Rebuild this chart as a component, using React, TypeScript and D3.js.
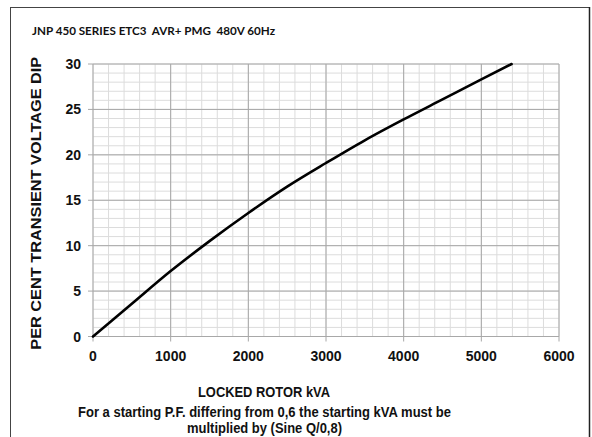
import React from "react";
import * as d3 from "d3";

const kva = [0, 500, 1000, 1500, 2000, 2500, 3000, 3500, 4000, 4500, 5000, 5390];
const dip = [0, 3.6, 7.2, 10.5, 13.6, 16.5, 19.1, 21.6, 23.9, 26.1, 28.3, 30];
const xTicks = [0, 1000, 2000, 3000, 4000, 5000, 6000];
const yTicks = [0, 5, 10, 15, 20, 25, 30];
const title = "JNP 450 SERIES ETC3  AVR+ PMG  480V 60Hz";
const yTitle = "PER CENT TRANSIENT VOLTAGE DIP";
const xTitleLines = [
  "LOCKED ROTOR kVA",
  "For a starting P.F. differing from 0,6 the starting kVA must be",
  "multiplied by (Sine Q/0,8)",
];

const W = 592;
const H = 437;
const left = 93, right = 559, top = 64, bottom = 336.5;

export default function App() {
  const x = d3.scaleLinear().domain([0, 6000]).range([left, right]);
  const y = d3.scaleLinear().domain([0, 30]).range([bottom, top]);
  const minorX = d3.range(0, 6001, 200);
  const minorY = d3.range(0, 31, 1);
  const pts: [number, number][] = kva.map((k, i) => [k, dip[i]]);
  const line = d3
    .line<[number, number]>()
    .x((d) => x(d[0]))
    .y((d) => y(d[1]))
    .curve(d3.curveMonotoneX);
  const font = "Liberation Sans, Arial, sans-serif";
  return (
    <svg
      width={W}
      height={H}
      style={{ position: "absolute", left: 0, top: 0, background: "#fff" }}
    >
      <rect x={0} y={0} width={W} height={H} fill="#fff" />
      {/* outer frame */}
      <line x1={10} y1={7.5} x2={589.5} y2={7.5} stroke="#444" strokeWidth={1} />
      <line x1={10.5} y1={7} x2={10.5} y2={H} stroke="#444" strokeWidth={1} />
      <line x1={589.5} y1={7} x2={589.5} y2={H} stroke="#222" strokeWidth={1.5} />

      <text
        x={32}
        y={35}
        fontFamily="Lato, Open Sans, sans-serif"
        fontWeight="bold"
        fontSize={10.5}
        textLength={243}
        lengthAdjust="spacingAndGlyphs"
        style={{ whiteSpace: "pre" }}
        fill="#111"
      >
        {title}
      </text>

      {/* minor grid */}
      {minorX.map((v) => (
        <line key={"mx" + v} x1={x(v)} x2={x(v)} y1={top} y2={bottom} stroke="#dcdcdc" strokeWidth={1} />
      ))}
      {minorY.map((v) => (
        <line key={"my" + v} x1={left} x2={right} y1={y(v)} y2={y(v)} stroke="#dcdcdc" strokeWidth={1} />
      ))}
      {/* major grid */}
      {xTicks.map((v) => (
        <line key={"Mx" + v} x1={x(v)} x2={x(v)} y1={top} y2={bottom + 5} stroke="#a8a8a8" strokeWidth={1} />
      ))}
      {yTicks.map((v) => (
        <line key={"My" + v} x1={left - 5} x2={right} y1={y(v)} y2={y(v)} stroke="#a8a8a8" strokeWidth={1} />
      ))}

      {/* curve */}
      <path d={line(pts) || ""} fill="none" stroke="#000" strokeWidth={2.6} strokeLinecap="round" />

      {/* tick labels */}
      {yTicks.map((v) => (
        <text key={"yl" + v} x={81} y={y(v) + 5} textAnchor="end" fontFamily={font} fontWeight="bold" fontSize={14} fill="#111">
          {v}
        </text>
      ))}
      {xTicks.map((v) => (
        <text key={"xl" + v} x={x(v)} y={360.5} textAnchor="middle" fontFamily={font} fontWeight="bold" fontSize={14} fill="#111">
          {v}
        </text>
      ))}

      {/* axis titles */}
      <text
        transform={`translate(41,${(top + bottom) / 2 + 3}) rotate(-90)`}
        textAnchor="middle"
        fontFamily={font}
        fontWeight="bold"
        fontSize={14.5}
        textLength={293}
        lengthAdjust="spacingAndGlyphs"
        fill="#111"
      >
        {yTitle}
      </text>
      <text x={264} y={396.5} textAnchor="middle" fontFamily={font} fontWeight="bold" fontSize={14} textLength={132} lengthAdjust="spacingAndGlyphs" fill="#111">
        {xTitleLines[0]}
      </text>
      <text x={264.5} y={417} textAnchor="middle" fontFamily={font} fontWeight="bold" fontSize={14} textLength={373} lengthAdjust="spacingAndGlyphs" fill="#111">
        {xTitleLines[1]}
      </text>
      <text x={264.5} y={432.5} textAnchor="middle" fontFamily={font} fontWeight="bold" fontSize={14} textLength={155} lengthAdjust="spacingAndGlyphs" fill="#111">
        {xTitleLines[2]}
      </text>
    </svg>
  );
}
